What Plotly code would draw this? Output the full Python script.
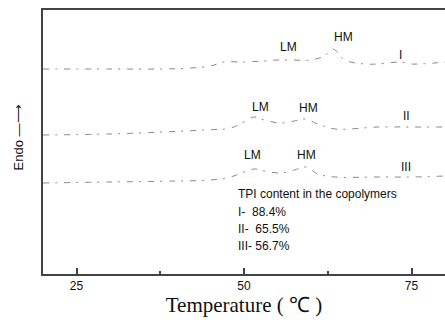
import plotly.graph_objects as go

# Temperature (°C) and relative heat-flow (arbitrary units, offset per curve)
temp_I = [20, 30, 38, 42, 45, 47, 50, 53, 55, 57, 60, 62, 63.3, 65, 68, 70, 73.4, 75, 80]
flow_I = [205, 205, 205, 206, 208, 212, 212, 213, 214, 214, 214, 218, 225, 214, 210, 210, 212, 210, 212]

temp_II = [20, 30, 38, 44, 48, 50, 51.5, 53, 55.4, 57.5, 59.1, 61, 63.6, 70, 75, 80]
flow_II = [139, 140, 142, 144, 146, 152, 157, 154, 151, 153, 155, 150, 145, 147, 147, 147]

temp_III = [20, 30, 40, 45, 48, 50, 51.5, 53, 55.5, 57.5, 59.3, 61, 63.6, 70, 75, 80]
flow_III = [91, 92, 93, 94, 97, 102, 105, 103, 101, 104, 107, 100, 97, 97, 97, 98]

# Peak labels: (text, x, y)
labels_I = [("LM", 56.7, 227), ("HM", 64.8, 237), ("I", 73.4, 219)]
labels_II = [("LM", 52.4, 167), ("HM", 59.7, 166), ("II", 74.2, 158)]
labels_III = [("LM", 51.3, 119), ("HM", 59.3, 119), ("III", 74.2, 107)]

legend_lines = ["TPI content in the copolymers", "I-  88.4%", "II-  65.5%", "III- 56.7%"]
legend_y = [80, 62, 45, 28]

x_ticks = [25, 50, 75]

fig = go.Figure()
for t, f in [(temp_I, flow_I), (temp_II, flow_II), (temp_III, flow_III)]:
    fig.add_trace(go.Scatter(x=t, y=f, mode="lines",
                             line=dict(color="#8a8a8a", width=1, dash="6px,6px,2px,7px", shape="spline"),
                             showlegend=False, hoverinfo="skip"))

annots = []
for group in (labels_I, labels_II, labels_III):
    for txt, x, y in group:
        annots.append(dict(x=x, y=y, text=txt, showarrow=False,
                           font=dict(family="Liberation Sans, Arial", size=12, color="#111")))
for txt, y in zip(legend_lines, legend_y):
    annots.append(dict(x=48.8, y=y, text=txt, showarrow=False, xanchor="left",
                       font=dict(family="Liberation Sans, Arial", size=12, color="#111")))
annots.append(dict(xref="paper", yref="paper", x=-0.06, y=0.517, xanchor="center", yanchor="middle",
                   text="Endo —⟶", textangle=-90, showarrow=False,
                   font=dict(family="Liberation Sans, Arial", size=13, color="#111")))

fig.update_layout(
    width=445, height=323,
    margin=dict(l=43, r=0, t=10, b=49),
    paper_bgcolor="white", plot_bgcolor="white",
    annotations=annots,
    xaxis=dict(range=[20, 80], tickvals=x_ticks, ticks="inside", ticklen=6, tickwidth=1.5,
               tickcolor="#444", showline=True, linecolor="#444", linewidth=1.5, mirror=True,
               showgrid=False, zeroline=False,
               minor=dict(tickvals=[37.5, 62.5], ticks="inside", ticklen=3, tickcolor="#444"),
               tickfont=dict(family="Liberation Sans, Arial", size=12, color="#111"),
               title=dict(text="Temperature ( ℃ )", standoff=5,
                          font=dict(family="Liberation Serif, Times New Roman", size=21, color="#111"))),
    yaxis=dict(range=[0, 264], showticklabels=False, ticks="", showline=True, linecolor="#444",
               linewidth=1.5, mirror=False, showgrid=False, zeroline=False),
)
fig.write_html("out.html")
